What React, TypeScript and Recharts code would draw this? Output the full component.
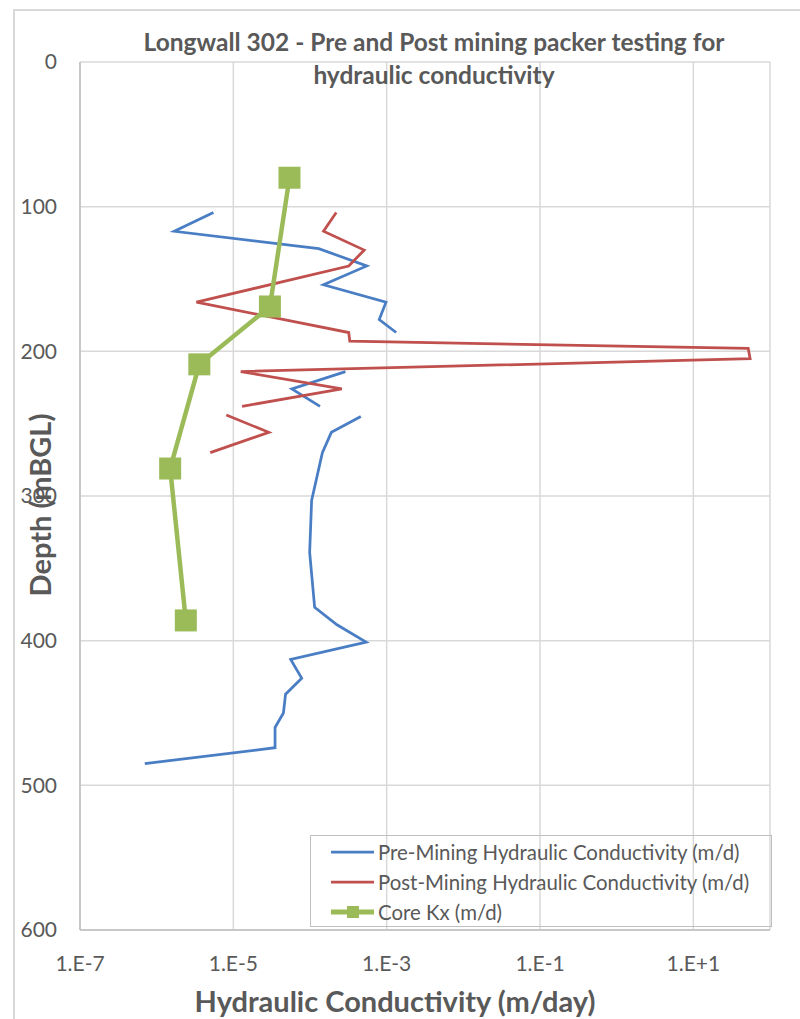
import React from "react";
import { ScatterChart, Scatter, XAxis, YAxis, CartesianGrid } from "recharts";

// depth (mBGL) and hydraulic conductivity (m/day); null marks a gap in the profile
const preDepth = [104, 117, 129, 141, 154, 166, 178, 187, null, 214, 226, 238, null, 245, 256, 270, 303, 339, 377, 389, 401, 413, 426, 437, 450, 460, 474, 485];
const preK = [5.5e-6, 1.7e-6, 1.3e-4, 5.5e-4, 1.5e-4, 9.8e-4, 8.0e-4, 1.33e-3, null, 2.9e-4, 5.8e-5, 1.35e-4, null, 4.6e-4, 1.9e-4, 1.45e-4, 1.05e-4, 9.9e-5, 1.15e-4, 2.25e-4, 5.4e-4, 5.6e-5, 7.8e-5, 4.8e-5, 4.5e-5, 3.5e-5, 3.5e-5, 7e-7];

const postDepth = [104, 117, 130, 141, 166, 187, 193, 198, 205, 214, 226, 238, null, 244, 256, 270];
const postK = [2.2e-4, 1.5e-4, 5.1e-4, 3.2e-4, 3.3e-6, 3.2e-4, 3.3e-4, 52, 55, 1.25e-5, 2.6e-4, 1.3e-5, null, 8.1e-6, 2.9e-5, 5.0e-6];

const coreDepth = [80, 169, 209, 281, 386];
const coreK = [5.4e-5, 3.0e-5, 3.6e-6, 1.5e-6, 2.4e-6];

const xTicks = [1e-7, 1e-5, 1e-3, 1e-1, 1e1];
const yTicks = [0, 100, 200, 300, 400, 500, 600];

const BLUE = "#4A7EC4";
const RED = "#C0504D";
const GREEN = "#9BBB59";
const TEXT = "#595959";
const FONT = "Lato, 'Open Sans', sans-serif";

type Pt = { k: number; depth: number };

function segments(depths: (number | null)[], ks: (number | null)[]): Pt[][] {
  const out: Pt[][] = [];
  let cur: Pt[] = [];
  depths.forEach((d, i) => {
    const k = ks[i];
    if (d == null || k == null) {
      if (cur.length) out.push(cur);
      cur = [];
    } else cur.push({ k, depth: d });
  });
  if (cur.length) out.push(cur);
  return out;
}

function sci(v: number) {
  const e = Math.round(Math.log10(v));
  return `1.E${e < 0 ? "-" : "+"}${Math.abs(e)}`;
}

const noDot = () => <g />;
const square = (p: any) => <rect x={p.cx - 11} y={p.cy - 11} width={22} height={22} fill={GREEN} />;

const legendItems = [
  { label: "Pre-Mining Hydraulic Conductivity (m/d)", color: BLUE, marker: false },
  { label: "Post-Mining Hydraulic Conductivity (m/d)", color: RED, marker: false },
  { label: "Core Kx (m/d)", color: GREEN, marker: true },
];

export default function App() {
  const pre = segments(preDepth, preK);
  const post = segments(postDepth, postK);
  const core = segments(coreDepth, coreK);
  const tick = { fill: TEXT, fontSize: 21, fontFamily: FONT };

  return (
    <div style={{ position: "absolute", left: 0, top: 0, width: 800, height: 1019, background: "#fff", overflow: "hidden", fontFamily: FONT, color: TEXT }}>
      <div style={{ position: "absolute", left: 13, top: 9, width: 820, height: 1100, borderLeft: "2px solid #d9d9d9", borderTop: "2px solid #d9d9d9" }} />
      <div style={{ position: "absolute", left: 0, top: 0 }}>
        <ScatterChart width={800} height={1019} margin={{ top: 62, right: 30, left: 0, bottom: 0 }}>
          <CartesianGrid stroke="#d9d9d9" strokeWidth={1.5} />
          <XAxis
            type="number"
            dataKey="k"
            scale="log"
            domain={[1e-7, 100]}
            allowDataOverflow
            ticks={xTicks}
            interval={0}
            tickFormatter={sci}
            tick={tick}
            tickLine={false}
            tickSize={0}
            tickMargin={26}
            axisLine={{ stroke: "#bfbfbf", strokeWidth: 1.5 }}
            height={89}
          />
          <YAxis
            type="number"
            dataKey="depth"
            reversed
            domain={[0, 600]}
            ticks={yTicks}
            interval={0}
            tick={tick}
            tickLine={false}
            tickSize={0}
            tickMargin={23}
            axisLine={{ stroke: "#bfbfbf", strokeWidth: 1.5 }}
            width={80}
          />
          {pre.map((s, i) => (
            <Scatter key={`pre${i}`} data={s} fill={BLUE} line={{ stroke: BLUE, strokeWidth: 2.75 }} shape={noDot} isAnimationActive={false} />
          ))}
          {post.map((s, i) => (
            <Scatter key={`post${i}`} data={s} fill={RED} line={{ stroke: RED, strokeWidth: 2.75 }} shape={noDot} isAnimationActive={false} />
          ))}
          {core.map((s, i) => (
            <Scatter key={`core${i}`} data={s} fill={GREEN} line={{ stroke: GREEN, strokeWidth: 4.5 }} shape={square} isAnimationActive={false} />
          ))}
        </ScatterChart>
      </div>

      <div style={{ position: "absolute", left: 0, width: 868, top: 25, textAlign: "center", fontWeight: 700, fontSize: 24.5, lineHeight: "33px" }}>
        Longwall 302 - Pre and Post mining packer testing for
        <br />
        hydraulic conductivity
      </div>

      <div style={{ position: "absolute", left: 95, width: 600, top: 983, textAlign: "center", fontWeight: 700, fontSize: 29, lineHeight: "36px" }}>
        Hydraulic Conductivity (m/day)
      </div>

      <div style={{ position: "absolute", left: 40 - 150, top: 505 - 18, width: 300, height: 36, textAlign: "center", fontWeight: 700, fontSize: 29, lineHeight: "36px", transform: "rotate(-90deg)" }}>
        Depth (mBGL)
      </div>

      <div style={{ position: "absolute", left: 310, top: 835, width: 462, height: 92, border: "1.5px solid #bfbfbf", paddingTop: 1, boxSizing: "border-box" }}>
        {legendItems.map((it) => (
          <div key={it.label} style={{ height: 30, display: "flex", alignItems: "center" }}>
            <svg width={48} height={30} style={{ marginLeft: 18, flex: "none" }}>
              <line x1={2} x2={45} y1={15} y2={15} stroke={it.color} strokeWidth={it.marker ? 5 : 2.75} />
              {it.marker && <rect x={18} y={9} width={12} height={12} fill={it.color} />}
            </svg>
            <span style={{ fontSize: 20.4, whiteSpace: "nowrap", marginLeft: 1 }}>{it.label}</span>
          </div>
        ))}
      </div>
    </div>
  );
}
